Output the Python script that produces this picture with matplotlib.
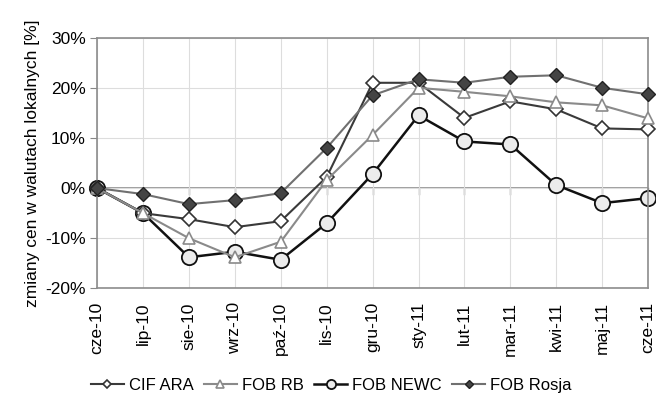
import numpy as np
import matplotlib.pyplot as plt
from matplotlib.ticker import FuncFormatter, MultipleLocator

plt.rcParams["font.family"] = ["Liberation Sans", "DejaVu Sans"]
plt.rcParams["font.size"] = 12.5

# miesiące i zmiany cen [%]
miesiace = ["cze-10", "lip-10", "sie-10", "wrz-10", "paź-10", "lis-10", "gru-10",
            "sty-11", "lut-11", "mar-11", "kwi-11", "maj-11", "cze-11"]
cif_ara = [0, -5.0, -6.2, -7.8, -6.6, 2.2, 21.0, 21.0, 14.0, 17.3, 15.7, 11.9, 11.7]
fob_rb = [0, -5.0, -10.0, -13.8, -10.7, 1.6, 10.6, 20.0, 19.2, 18.3, 17.1, 16.5, 13.9]
fob_newc = [0, -5.0, -13.8, -12.7, -14.3, -7.0, 2.8, 14.5, 9.3, 8.7, 0.6, -3.0, -2.0]
fob_rosja = [0, -1.2, -3.2, -2.4, -1.0, 8.0, 18.5, 21.7, 21.0, 22.2, 22.5, 20.0, 18.7]

x = np.arange(len(miesiace))

fig = plt.figure(figsize=(6.56, 4.05), dpi=100)
ax = fig.add_axes([0.148, 0.288, 0.840, 0.619])

ax.plot(x, cif_ara, color="#3a3a3a", lw=1.5, marker="D", ms=7.5, clip_on=False,
        mfc="white", mec="#333333", mew=1.2, label="CIF ARA", zorder=3)
ax.plot(x, fob_rb, color="#8a8a8a", lw=1.5, marker="^", ms=9, clip_on=False,
        mfc="white", mec="#8a8a8a", mew=1.2, label="FOB RB", zorder=4)
ax.plot(x, fob_newc, color="#111111", lw=1.8, marker="o", ms=11, clip_on=False,
        mfc="#ececec", mec="#111111", mew=1.3, label="FOB NEWC", zorder=2)
ax.plot(x, fob_rosja, color="#707070", lw=1.5, marker="D", ms=7.5, clip_on=False,
        mfc="#444444", mec="#222222", mew=1.0, label="FOB Rosja", zorder=5)

ax.set_xlim(0, len(miesiace) - 1)
ax.set_ylim(-20, 30)
ax.yaxis.set_major_locator(MultipleLocator(10))
ax.yaxis.set_major_formatter(FuncFormatter(lambda v, p: f"{v:.0f}%"))
ax.set_xticks(x)
ax.set_xticklabels(miesiace, rotation=90)
ax.tick_params(axis="x", length=0, pad=10)
ax.tick_params(axis="y", length=5, pad=3, color="#888888")

# siatka i oś zerowa
ax.grid(True, color="#dddddd", lw=0.8, zorder=0)
ax.axhline(0, color="#8c8c8c", lw=1.2, zorder=1)
for xi in x:
    ax.plot([xi, xi], [0, -1.2], color="#8c8c8c", lw=1.0, zorder=1, clip_on=False)
for s in ax.spines.values():
    s.set_color("#8c8c8c")
    s.set_linewidth(1.2)

ax.set_ylabel("zmiany cen w walutach lokalnych [%]", labelpad=4)

fig.legend(loc="center", bbox_to_anchor=(0.505, 0.048), ncol=4, frameon=False,
           handlelength=2.0, columnspacing=0.6, handletextpad=0.3, markerscale=0.6,
           fontsize=12)

fig.savefig("out.png", dpi=100)
